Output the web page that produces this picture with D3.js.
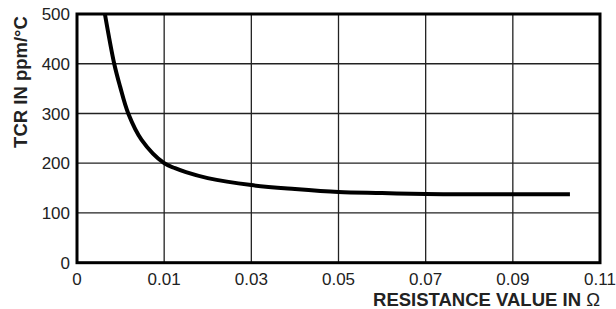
<!DOCTYPE html>
<html>
<head>
<meta charset="utf-8">
<script src="https://cdn.jsdelivr.net/npm/d3@7"></script>
<style>
  body { margin: 0; background: #fff; }
  text { font-family: "Liberation Sans", Arial, sans-serif; }
</style>
</head>
<body>
<svg id="chart" width="616" height="309"></svg>
<script>
// tick values (x ticks are evenly spaced on the page, not linear)
var xTicks = [0, 0.01, 0.03, 0.05, 0.07, 0.09, 0.11];
var xTickLabels = ["0", "0.01", "0.03", "0.05", "0.07", "0.09", "0.11"];
var yTicks = [0, 100, 200, 300, 400, 500];

// curve
var resistance = [0.0032, 0.00427, 0.00493, 0.00588, 0.00741, 0.0100, 0.0125, 0.015, 0.02, 0.03, 0.04, 0.05, 0.06, 0.07, 0.08, 0.09, 0.1031];
var tcr = [500, 400, 355, 300, 247, 200, 190, 182, 170, 156, 148, 142, 140, 138, 137.5, 137.5, 137.5];

var svg = d3.select("#chart");
var plotLeft = 77, plotRight = 600, plotTop = 14, plotBottom = 262.7;

// piecewise scale so each tick gets the same width
var step = (plotRight - plotLeft) / (xTicks.length - 1);
var x = d3.scaleLinear()
    .domain(xTicks)
    .range(xTicks.map(function (d, i) { return plotLeft + i * step; }));
var y = d3.scaleLinear().domain([0, 500]).range([plotBottom, plotTop]);

//Grid
svg.append("g").selectAll("line")
    .data(xTicks.slice(1, -1))
    .enter().append("line")
    .attr("x1", function (d) { return x(d); })
    .attr("x2", function (d) { return x(d); })
    .attr("y1", plotTop).attr("y2", plotBottom)
    .attr("stroke", "#222").attr("stroke-width", 1.3);

svg.append("g").selectAll("line")
    .data(yTicks.slice(1, -1))
    .enter().append("line")
    .attr("y1", function (d) { return y(d); })
    .attr("y2", function (d) { return y(d); })
    .attr("x1", plotLeft).attr("x2", plotRight)
    .attr("stroke", "#222").attr("stroke-width", 1.3);

//Curve
var pts = resistance.map(function (r, i) { return [r, tcr[i]]; });
var line = d3.line()
    .x(function (d) { return x(d[0]); })
    .y(function (d) { return y(d[1]); })
    .curve(d3.curveCatmullRom.alpha(0.5));

svg.append("path")
    .datum(pts)
    .attr("d", line)
    .attr("fill", "none")
    .attr("stroke", "#000")
    .attr("stroke-width", 4);

//Frame
svg.append("rect")
    .attr("x", plotLeft).attr("y", plotTop)
    .attr("width", plotRight - plotLeft).attr("height", plotBottom - plotTop)
    .attr("fill", "none").attr("stroke", "#000").attr("stroke-width", 3);

//Tick labels
svg.append("g").selectAll("text")
    .data(xTicks)
    .enter().append("text")
    .attr("x", function (d) { return x(d); })
    .attr("y", 285)
    .attr("text-anchor", "middle")
    .attr("font-size", 17)
    .attr("fill", "#222")
    .text(function (d, i) { return xTickLabels[i]; });

svg.append("g").selectAll("text")
    .data(yTicks)
    .enter().append("text")
    .attr("x", 70)
    .attr("y", function (d) { return y(d); })
    .attr("dy", "0.36em")
    .attr("text-anchor", "end")
    .attr("font-size", 17)
    .attr("fill", "#222")
    .text(function (d) { return d; });

//Axis titles
var xt = svg.append("text")
    .attr("x", 600).attr("y", 305.5)
    .attr("text-anchor", "end")
    .attr("font-size", 18.5)
    .attr("font-weight", "bold")
    .attr("fill", "#222");
xt.append("tspan").text("RESISTANCE VALUE IN ");
xt.append("tspan").attr("font-weight", "normal").text("\u03A9");

svg.append("text")
    .attr("transform", "translate(27,82) rotate(-90)")
    .attr("text-anchor", "middle")
    .attr("font-size", 18.5)
    .attr("font-weight", "bold")
    .attr("fill", "#222")
    .text("TCR IN ppm/\u00B0C");
</script>
</body>
</html>
